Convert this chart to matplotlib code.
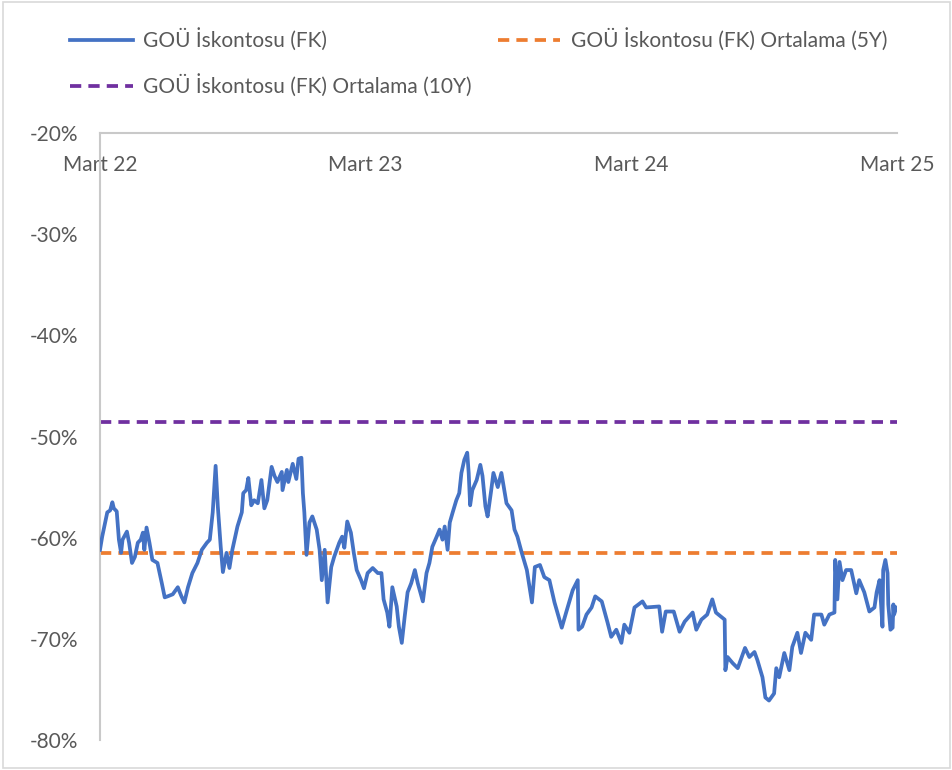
import matplotlib
matplotlib.use("Agg")
import matplotlib.pyplot as plt
import pandas as pd
from matplotlib.lines import Line2D
from matplotlib.patches import Rectangle

dates = [
    "2022-03-01", "2022-03-04", "2022-03-11", "2022-03-15", "2022-03-18", "2022-03-20", "2022-03-24", "2022-03-27",
    "2022-03-30", "2022-04-01", "2022-04-07", "2022-04-10", "2022-04-14", "2022-04-18", "2022-04-22", "2022-04-26",
    "2022-04-29", "2022-05-01", "2022-05-04", "2022-05-08", "2022-05-12", "2022-05-19", "2022-05-25", "2022-05-29",
    "2022-06-02", "2022-06-09", "2022-06-16", "2022-06-21", "2022-06-25", "2022-06-30", "2022-07-06", "2022-07-13",
    "2022-07-19", "2022-07-26", "2022-07-30", "2022-08-03", "2022-08-07", "2022-08-10", "2022-08-14", "2022-08-17",
    "2022-08-22", "2022-08-26", "2022-08-30", "2022-09-06", "2022-09-12", "2022-09-14", "2022-09-18", "2022-09-21",
    "2022-09-25", "2022-09-29", "2022-10-04", "2022-10-09", "2022-10-13", "2022-10-17", "2022-10-23", "2022-10-27",
    "2022-10-31", "2022-11-06", "2022-11-07", "2022-11-13", "2022-11-15", "2022-11-21", "2022-11-26", "2022-11-29",
    "2022-12-03", "2022-12-05", "2022-12-07", "2022-12-10", "2022-12-14", "2022-12-18", "2022-12-24", "2022-12-28",
    "2022-12-31", "2023-01-04", "2023-01-08", "2023-01-13", "2023-01-17", "2023-01-24", "2023-01-28", "2023-01-31",
    "2023-02-04", "2023-02-09", "2023-02-13", "2023-02-17", "2023-02-23", "2023-02-27", "2023-03-04", "2023-03-11",
    "2023-03-18", "2023-03-23", "2023-03-26", "2023-03-31", "2023-04-03", "2023-04-07", "2023-04-13", "2023-04-16",
    "2023-04-20", "2023-04-24", "2023-04-28", "2023-05-03", "2023-05-08", "2023-05-12", "2023-05-19", "2023-05-24",
    "2023-05-28", "2023-06-01", "2023-06-07", "2023-06-11", "2023-06-15", "2023-06-18", "2023-06-22", "2023-06-25",
    "2023-06-29", "2023-07-04", "2023-07-08", "2023-07-11", "2023-07-15", "2023-07-19", "2023-07-21", "2023-07-23",
    "2023-07-26", "2023-08-01", "2023-08-06", "2023-08-09", "2023-08-13", "2023-08-16", "2023-08-21", "2023-08-24",
    "2023-08-30", "2023-09-04", "2023-09-11", "2023-09-18", "2023-09-22", "2023-09-26", "2023-10-02", "2023-10-09",
    "2023-10-16", "2023-10-20", "2023-10-27", "2023-11-02", "2023-11-09", "2023-11-16", "2023-11-26", "2023-12-02",
    "2023-12-11", "2023-12-18", "2023-12-19", "2023-12-24", "2023-12-30", "2024-01-06", "2024-01-11", "2024-01-20",
    "2024-01-28", "2024-02-02", "2024-02-09", "2024-02-16", "2024-02-20", "2024-02-27", "2024-03-05", "2024-03-16",
    "2024-03-21", "2024-04-08", "2024-04-12", "2024-04-17", "2024-04-28", "2024-05-06", "2024-05-13", "2024-05-24",
    "2024-05-29", "2024-06-05", "2024-06-13", "2024-06-20", "2024-06-25", "2024-07-07", "2024-07-08", "2024-07-11",
    "2024-07-18", "2024-07-25", "2024-08-04", "2024-08-10", "2024-08-17", "2024-08-21", "2024-08-28", "2024-09-01",
    "2024-09-06", "2024-09-13", "2024-09-16", "2024-09-20", "2024-09-27", "2024-10-04", "2024-10-08", "2024-10-15",
    "2024-10-20", "2024-10-26", "2024-11-03", "2024-11-07", "2024-11-17", "2024-11-21", "2024-11-28", "2024-12-05",
    "2024-12-06", "2024-12-09", "2024-12-12", "2024-12-16", "2024-12-21", "2024-12-28", "2025-01-04", "2025-01-08",
    "2025-01-15", "2025-01-22", "2025-01-29", "2025-02-01", "2025-02-05", "2025-02-09", "2025-02-10", "2025-02-13",
    "2025-02-16", "2025-02-17", "2025-02-20", "2025-02-23", "2025-02-24", "2025-02-25", "2025-02-28",
]

discount = [
    -61.2, -59.9, -57.5, -57.3, -56.5, -57.1, -57.4, -60.2,
    -61.5, -60.2, -59.4, -60.5, -62.5, -61.9, -60.5, -60.2,
    -59.5, -61.2, -59.0, -60.5, -62.2, -62.5, -64.5, -65.9,
    -65.8, -65.6, -64.9, -65.8, -66.4, -64.9, -63.5, -62.5,
    -61.2, -60.5, -60.2, -57.5, -52.9, -56.9, -60.9, -63.4,
    -61.5, -63.0, -61.2, -58.9, -57.5, -55.6, -55.3, -54.1,
    -56.8, -56.3, -56.6, -54.3, -57.1, -56.3, -53.0, -53.9,
    -54.5, -53.5, -55.3, -53.3, -54.5, -52.7, -54.2, -52.2,
    -52.1, -55.6, -57.5, -61.7, -58.5, -57.9, -59.2, -61.2,
    -64.2, -61.2, -66.4, -62.9, -61.9, -60.5, -59.9, -61.0,
    -58.4, -59.5, -61.5, -63.2, -64.2, -65.0, -63.5, -63.0,
    -63.5, -63.5, -66.1, -67.4, -68.8, -64.9, -66.8, -68.8,
    -70.4, -67.8, -65.4, -64.5, -63.2, -64.5, -66.3, -63.5,
    -62.5, -60.9, -59.9, -59.2, -60.2, -58.9, -61.2, -58.5,
    -57.5, -56.3, -55.6, -53.6, -52.3, -51.6, -53.6, -56.8,
    -55.3, -54.3, -52.8, -53.9, -56.9, -57.9, -55.3, -53.6,
    -55.0, -53.6, -56.6, -57.3, -59.2, -59.9, -61.5, -63.2,
    -66.4, -62.9, -62.7, -63.9, -64.2, -66.4, -68.9, -67.4,
    -65.2, -64.2, -69.1, -68.8, -67.6, -66.9, -65.8, -66.3,
    -68.4, -69.8, -69.1, -70.4, -68.6, -69.4, -66.9, -66.3,
    -66.9, -66.8, -69.3, -67.3, -67.3, -69.3, -68.3, -67.4,
    -69.1, -68.1, -67.6, -66.1, -67.4, -68.1, -73.1, -71.8,
    -72.4, -72.9, -70.9, -71.8, -71.3, -72.1, -73.8, -75.8,
    -76.1, -75.4, -72.9, -73.8, -71.4, -73.1, -70.8, -69.4,
    -71.4, -69.4, -70.1, -67.6, -67.6, -68.6, -67.6, -67.4,
    -62.2, -66.1, -62.4, -64.2, -63.2, -63.2, -65.5, -64.2,
    -65.4, -67.3, -66.9, -65.4, -64.2, -68.8, -63.2, -62.2,
    -63.5, -66.6, -69.1, -68.9, -66.6, -67.6, -66.9,
]

avg_5y = -61.5
avg_10y = -48.6

x_ticks = ["2022-03-01", "2023-03-01", "2024-03-01", "2025-03-01"]
x_labels = ["Mart 22", "Mart 23", "Mart 24", "Mart 25"]
y_ticks = [-20, -30, -40, -50, -60, -70, -80]

labels = ["GOÜ İskontosu (FK)", "GOÜ İskontosu (FK) Ortalama (5Y)", "GOÜ İskontosu (FK) Ortalama (10Y)"]

BLUE = "#4472C4"
ORANGE = "#ED7D31"
PURPLE = "#7030A0"
GRAY_TXT = "#595959"
AXIS = "#C9C9C9"
DASH = (0, (3.0, 1.9))
LW = 2.7

plt.rcParams["font.family"] = ["Lato", "DejaVu Sans"]

W, H = 953, 770
fig = plt.figure(figsize=(W / 100, H / 100), dpi=100)
fig.patches.append(Rectangle((0.003, 0.003), 0.994, 0.994, transform=fig.transFigure,
                             fill=False, edgecolor="#D9D9D9", lw=1.2))

ax = fig.add_axes([100 / W, 1 - 740 / H, (897 - 100) / W, (740 - 133) / H])

xd = pd.to_datetime(dates)
ax.plot(xd, discount, color=BLUE, lw=LW, solid_joinstyle="round", zorder=3)
ax.axhline(avg_5y, color=ORANGE, lw=LW, ls=DASH, zorder=2)
ax.axhline(avg_10y, color=PURPLE, lw=LW, ls=DASH, zorder=2)

xt = pd.to_datetime(x_ticks)
ax.set_xlim(xt[0], xt[-1])
ax.set_ylim(-80, -20)
ax.set_xticks(xt)
ax.set_xticklabels(x_labels)
ax.set_yticks(y_ticks)
ax.set_yticklabels([f"{v}%" for v in y_ticks])

for s in ["top", "right"]:
    ax.spines[s].set_visible(False)
ax.spines["bottom"].set_position(("data", -20))
ax.spines["bottom"].set_color(AXIS)
ax.spines["left"].set_color(AXIS)
ax.spines["bottom"].set_linewidth(1.5)
ax.spines["left"].set_linewidth(1.5)
ax.tick_params(axis="x", length=0, pad=16, labelsize=15, labelcolor=GRAY_TXT)
ax.tick_params(axis="y", length=0, pad=16, labelsize=15, labelcolor=GRAY_TXT)

handles = [
    Line2D([], [], color=BLUE, lw=LW),
    Line2D([], [], color=PURPLE, lw=LW, ls=DASH),
    Line2D([], [], color=ORANGE, lw=LW, ls=DASH),
]
leg = fig.legend(handles, [labels[0], labels[2], labels[1]], ncol=2,
                 loc="upper left", bbox_to_anchor=(62 / W, 1 - 20 / H),
                 frameon=False, fontsize=15, handlelength=3.0, handletextpad=0.5,
                 columnspacing=1.25, labelspacing=1.1, borderaxespad=0)
for t in leg.get_texts():
    t.set_color(GRAY_TXT)

fig.savefig("out.png", dpi=100)
